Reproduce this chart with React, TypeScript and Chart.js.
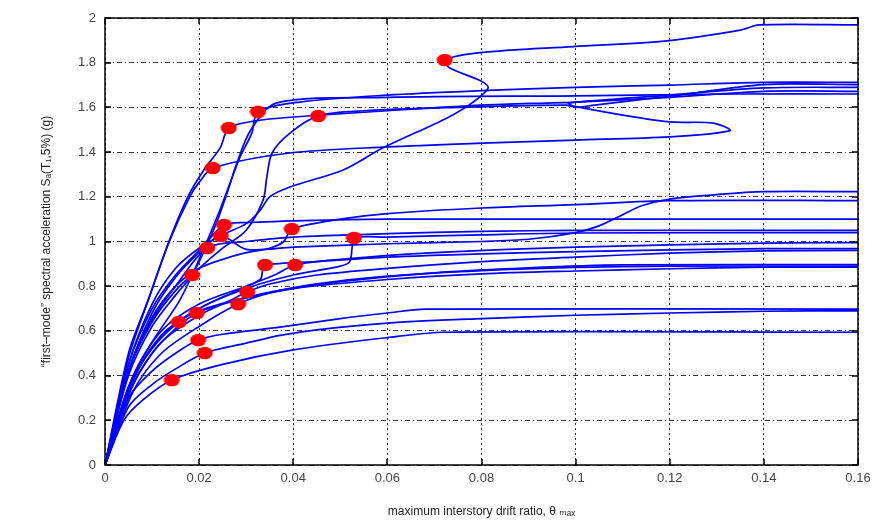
import React, { useEffect, useRef } from "react";
import { Chart, registerables } from "chart.js";

Chart.register(...registerables);

type Pt = [number, number];

// Axis ranges / ticks
const xRange = [0, 0.16];
const yRange = [0, 2];
const xStep = 0.02;
const yStep = 0.2;

// IDA curves: [drift ratio, Sa(T1,5%)]
const ida01: Pt[] = [[0, 0], [0.004, 0.2], [0.008, 0.29], [0.0142, 0.38], [0.025, 0.45], [0.04, 0.515], [0.06, 0.57], [0.072, 0.594], [0.16, 0.594]];
const ida02: Pt[] = [[0, 0], [0.005, 0.26], [0.01, 0.36], [0.015, 0.43], [0.0212, 0.501], [0.03, 0.545], [0.0372, 0.58], [0.045, 0.605], [0.06, 0.635], [0.08, 0.655], [0.1, 0.67], [0.12, 0.68], [0.14, 0.688], [0.16, 0.69]];
const ida03: Pt[] = [[0, 0], [0.005, 0.3], [0.01, 0.42], [0.015, 0.5], [0.0198, 0.559], [0.025, 0.585], [0.0372, 0.617], [0.05, 0.655], [0.06, 0.68], [0.068, 0.697], [0.16, 0.697]];
const ida04: Pt[] = [[0, 0], [0.005, 0.35], [0.01, 0.52], [0.0157, 0.64], [0.02, 0.69], [0.03, 0.75], [0.04, 0.79], [0.06, 0.83], [0.08, 0.855], [0.1, 0.868], [0.12, 0.878], [0.14, 0.885], [0.16, 0.885]];
const ida05: Pt[] = [[0, 0], [0.005, 0.32], [0.01, 0.5], [0.015, 0.61], [0.0195, 0.68], [0.025, 0.72], [0.035, 0.77], [0.05, 0.82], [0.07, 0.86], [0.09, 0.882], [0.11, 0.895], [0.16, 0.897]];
const ida06: Pt[] = [[0, 0], [0.006, 0.33], [0.012, 0.5], [0.02, 0.62], [0.0283, 0.72], [0.035, 0.77], [0.045, 0.81], [0.06, 0.845], [0.08, 0.87], [0.1, 0.884], [0.12, 0.89], [0.16, 0.89]];
const ida07: Pt[] = [[0, 0], [0.006, 0.36], [0.012, 0.55], [0.02, 0.67], [0.026, 0.73], [0.0302, 0.774], [0.035, 0.81], [0.045, 0.85], [0.06, 0.88], [0.08, 0.91], [0.1, 0.93], [0.12, 0.948], [0.14, 0.958], [0.16, 0.96]];
const ida08: Pt[] = [[0, 0], [0.006, 0.38], [0.012, 0.58], [0.02, 0.7], [0.028, 0.78], [0.033, 0.83], [0.0335, 0.87], [0.034, 0.895], [0.045, 0.91], [0.06, 0.93], [0.08, 0.945], [0.1, 0.955], [0.14, 0.968], [0.16, 0.968]];
const ida09: Pt[] = [[0, 0], [0.006, 0.4], [0.012, 0.6], [0.02, 0.72], [0.03, 0.8], [0.036, 0.85], [0.0404, 0.895], [0.05, 0.92], [0.07, 0.95], [0.1, 0.975], [0.14, 0.993], [0.16, 0.995]];
const ida10: Pt[] = [[0, 0], [0.006, 0.38], [0.012, 0.58], [0.02, 0.7], [0.03, 0.79], [0.04, 0.85], [0.05, 0.89], [0.052, 0.91], [0.0525, 0.97], [0.0529, 1.016], [0.06, 1.02], [0.08, 1.03], [0.1, 1.038], [0.16, 1.04]];
const ida11: Pt[] = [[0, 0], [0.005, 0.42], [0.01, 0.65], [0.015, 0.8], [0.0217, 0.971], [0.03, 1.0], [0.04, 1.02], [0.06, 1.035], [0.08, 1.045], [0.1, 1.05], [0.16, 1.05]];
const ida12: Pt[] = [[0, 0], [0.005, 0.45], [0.01, 0.7], [0.015, 0.85], [0.02, 0.96], [0.0253, 1.074], [0.03, 1.085], [0.045, 1.095], [0.06, 1.1], [0.16, 1.1]];
const ida13: Pt[] = [[0, 0], [0.005, 0.42], [0.01, 0.66], [0.015, 0.8], [0.02, 0.88], [0.025, 0.92], [0.03, 0.95], [0.035, 0.97], [0.038, 1.0], [0.0397, 1.056], [0.05, 1.1], [0.06, 1.125], [0.08, 1.15], [0.1, 1.165], [0.12, 1.183], [0.16, 1.183]];
const ida14: Pt[] = [[0, 0], [0.005, 0.42], [0.01, 0.68], [0.015, 0.84], [0.02, 0.95], [0.0246, 1.025], [0.03, 0.965], [0.04, 0.975], [0.06, 0.99], [0.08, 1.0], [0.09, 1.01], [0.1, 1.04], [0.105, 1.07], [0.11, 1.12], [0.114, 1.16], [0.12, 1.19], [0.13, 1.21], [0.14, 1.223], [0.16, 1.223]];
const ida15: Pt[] = [[0, 0], [0.005, 0.4], [0.01, 0.62], [0.015, 0.76], [0.0185, 0.85], [0.022, 1.0], [0.024, 1.1], [0.026, 1.22], [0.028, 1.35], [0.031, 1.5], [0.0365, 1.62], [0.06, 1.645], [0.1, 1.652], [0.134, 1.66], [0.16, 1.66]];
const ida16: Pt[] = [[0, 0], [0.005, 0.45], [0.01, 0.72], [0.015, 0.88], [0.02, 0.97], [0.025, 1.03], [0.03, 1.08], [0.033, 1.14], [0.035, 1.2], [0.0393, 1.244], [0.0506, 1.32], [0.059, 1.418], [0.0727, 1.553], [0.078, 1.62], [0.0814, 1.687], [0.0797, 1.72], [0.0733, 1.776], [0.0722, 1.812], [0.0797, 1.845], [0.0995, 1.872], [0.1194, 1.898], [0.135, 1.946], [0.139, 1.969], [0.16, 1.969]];
const ida17: Pt[] = [[0, 0], [0.005, 0.35], [0.01, 0.55], [0.0159, 0.738], [0.0202, 0.93], [0.0244, 1.14], [0.0287, 1.378], [0.0312, 1.485], [0.0325, 1.58], [0.0414, 1.624], [0.06, 1.655], [0.08, 1.675], [0.1, 1.69], [0.12, 1.7], [0.14, 1.712], [0.16, 1.712]];
const ida18: Pt[] = [[0, 0], [0.005, 0.42], [0.01, 0.64], [0.015, 0.78], [0.02, 0.88], [0.025, 0.97], [0.03, 1.05], [0.0336, 1.186], [0.0344, 1.29], [0.0355, 1.396], [0.0393, 1.485], [0.0453, 1.562], [0.055, 1.585], [0.075, 1.6], [0.098, 1.61], [0.1, 1.6], [0.104, 1.61], [0.12, 1.65], [0.14, 1.702], [0.16, 1.702]];
const ida19: Pt[] = [[0, 0], [0.005, 0.5], [0.0092, 0.74], [0.0134, 0.99], [0.0176, 1.2], [0.021, 1.32], [0.0245, 1.42], [0.0263, 1.508], [0.032, 1.54], [0.04, 1.557], [0.06, 1.585], [0.08, 1.61], [0.1, 1.624], [0.12, 1.645], [0.14, 1.672], [0.16, 1.672]];
const ida20: Pt[] = [[0, 0], [0.005, 0.48], [0.0092, 0.738], [0.0138, 1.007], [0.018, 1.2], [0.0202, 1.27], [0.0229, 1.329], [0.0393, 1.396], [0.06, 1.423], [0.08, 1.44], [0.1, 1.454], [0.12, 1.468], [0.1328, 1.496], [0.1292, 1.53], [0.1194, 1.536], [0.0995, 1.606], [0.0985, 1.62], [0.12, 1.655], [0.14, 1.687], [0.16, 1.69]];

const idaCurves: Pt[][] = [ida01, ida02, ida03, ida04, ida05, ida06, ida07, ida08, ida09, ida10, ida11, ida12, ida13, ida14, ida15, ida16, ida17, ida18, ida19, ida20];

// Capacity points (red dots)
const capX = [0.0142, 0.0212, 0.0198, 0.0157, 0.0195, 0.0283, 0.0302, 0.034, 0.0404, 0.0529, 0.0217, 0.0253, 0.0397, 0.0246, 0.0185, 0.0722, 0.0325, 0.0453, 0.0263, 0.0229];
const capY = [0.38, 0.501, 0.559, 0.64, 0.68, 0.72, 0.774, 0.895, 0.895, 1.016, 0.971, 1.074, 1.056, 1.025, 0.85, 1.812, 1.58, 1.562, 1.508, 1.329];

const xTitle = "maximum interstory drift ratio, \u03b8 \u2098\u2090\u2093";
const yTitle = "\u201cfirst\u2013mode\u201d spectral acceleration S\u2090(T\u2081,5%) (g)";

const FONT = "'Liberation Sans', 'DejaVu Sans', Arial, sans-serif";

export default function App() {
  const ref = useRef<HTMLCanvasElement | null>(null);

  useEffect(() => {
    document.body.style.margin = "0";
    const canvas = ref.current;
    if (!canvas) return;

    const dot = document.createElement("canvas");
    dot.width = 17;
    dot.height = 14;
    const dctx = dot.getContext("2d")!;
    dctx.fillStyle = "#ff0000";
    dctx.beginPath();
    dctx.ellipse(8.5, 7, 8, 6.3, 0, 0, Math.PI * 2);
    dctx.fill();

    const framePlugin = {
      id: "frame",
      afterDraw(chart: any) {
        const { ctx, chartArea: a, scales } = chart;
        ctx.save();
        ctx.strokeStyle = "#000";
        ctx.lineWidth = 1.5;
        ctx.setLineDash([]);
        ctx.strokeRect(a.left, a.top, a.right - a.left, a.bottom - a.top);
        ctx.lineWidth = 1.5;
        ctx.beginPath();
        scales.x.ticks.forEach((t: any) => {
          const px = Math.round(scales.x.getPixelForValue(t.value));
          ctx.moveTo(px, a.bottom);
          ctx.lineTo(px, a.bottom - 6);
          ctx.moveTo(px, a.top);
          ctx.lineTo(px, a.top + 6);
        });
        scales.y.ticks.forEach((t: any) => {
          const py = Math.round(scales.y.getPixelForValue(t.value));
          ctx.moveTo(a.left, py);
          ctx.lineTo(a.left + 6, py);
          ctx.moveTo(a.right, py);
          ctx.lineTo(a.right - 6, py);
        });
        ctx.stroke();
        ctx.restore();
      },
    };

    const datasets: any[] = [
      {
        label: "capacity",
        data: capX.map((x, i) => ({ x, y: capY[i] })),
        showLine: false,
        pointStyle: dot,
        pointRadius: 8,
        order: 0,
      },
      ...idaCurves.map((c, i) => ({
        label: "IDA " + (i + 1),
        data: c.map(([x, y]) => ({ x, y })),
        showLine: true,
        borderColor: "#0000ff",
        borderWidth: 1.7,
        pointRadius: 0,
        tension: 0.3,
        cubicInterpolationMode: "default",
        fill: false,
        order: 1,
      })),
    ];

    const chart = new Chart(canvas, {
      type: "scatter",
      data: { datasets },
      options: {
        animation: false,
        responsive: false,
        devicePixelRatio: 1,
        layout: { padding: { left: 0, top: 18, right: 18, bottom: 0 } },
        plugins: { legend: { display: false }, tooltip: { enabled: false } },
        scales: {
          x: {
            type: "linear",
            min: xRange[0],
            max: xRange[1],
            afterFit: (s: any) => {
              s.height = 58;
              s.paddingLeft = 0;
              s.paddingRight = 0;
            },
            ticks: {
              stepSize: xStep,
              padding: 6,
              color: "#444",
              font: { family: FONT, size: 13 },
              callback: (v: any) => String(Math.round(Number(v) * 100) / 100),
            },
            grid: { color: "rgba(0,0,0,0.8)", lineWidth: 1, drawTicks: false },
            border: { display: false, dash: [2, 3] },
            title: {
              display: true,
              text: xTitle,
              color: "#222",
              font: { family: FONT, size: 12 },
              padding: { top: 0, bottom: 4 },
            },
          },
          y: {
            type: "linear",
            min: yRange[0],
            max: yRange[1],
            afterFit: (s: any) => {
              s.width = 105;
              s.paddingTop = 0;
              s.paddingBottom = 0;
            },
            ticks: {
              stepSize: yStep,
              padding: 9,
              color: "#444",
              font: { family: FONT, size: 13 },
              callback: (v: any) => String(Math.round(Number(v) * 10) / 10),
            },
            grid: { color: "rgba(0,0,0,0.8)", lineWidth: 1, drawTicks: false },
            border: { display: false, dash: [5, 3, 1, 3] },
            title: {
              display: true,
              text: yTitle,
              color: "#222",
              font: { family: FONT, size: 12 },
              padding: { top: 39, bottom: 0 },
            },
          },
        },
      },
      plugins: [framePlugin],
    });

    return () => chart.destroy();
  }, []);

  return (
    <div style={{ width: 876, height: 523, overflow: "hidden", background: "#fff" }}>
      <canvas ref={ref} width={876} height={523} style={{ display: "block" }} />
    </div>
  );
}
